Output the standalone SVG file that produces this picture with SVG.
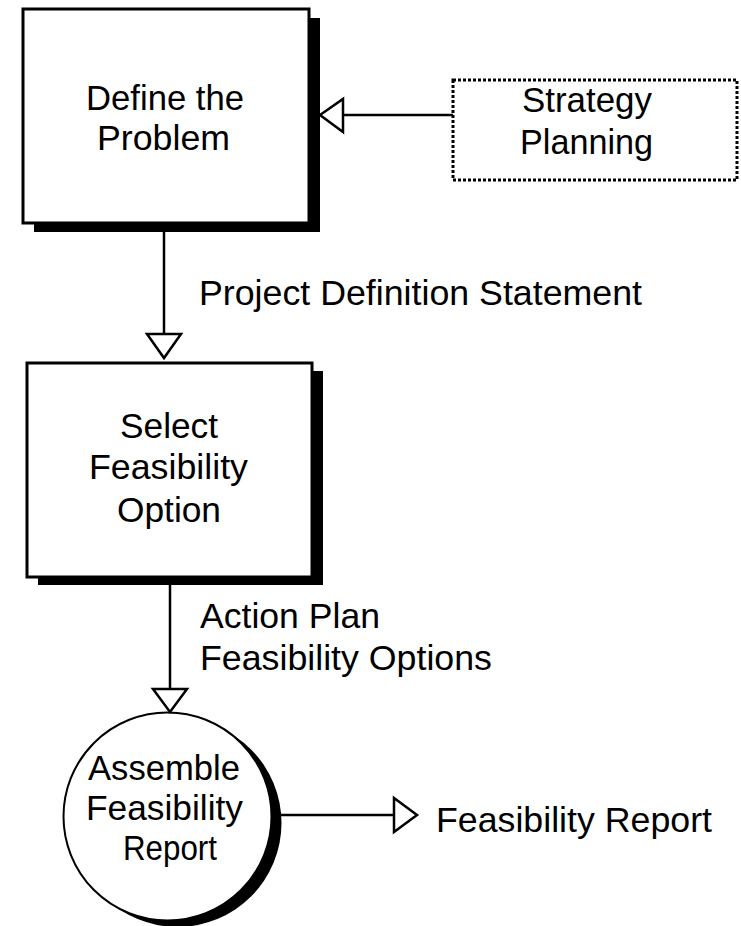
<svg xmlns="http://www.w3.org/2000/svg" width="741" height="926" viewBox="0 0 741 926">
<style>
text{font-family:"Liberation Sans",Arial,sans-serif;font-size:35px;fill:#000}
.box{fill:#fff;stroke:#000;stroke-width:3}
.shadow{fill:#000}
.dotted{fill:#fff;stroke:#000;stroke-width:3;stroke-dasharray:3 2}
.line{fill:none;stroke:#000;stroke-width:2.5}
.head{fill:#fff;stroke:#000;stroke-width:2.5;stroke-linejoin:miter}
</style>
<rect width="741" height="926" fill="#fff"/>
<g id="define">
<rect class="shadow" x="34" y="18" width="286" height="214"/>
<rect class="box" x="23" y="9" width="286" height="214"/>
<text x="86" y="110" textLength="158" lengthAdjust="spacingAndGlyphs">Define the</text>
<text x="97" y="150" textLength="133" lengthAdjust="spacingAndGlyphs">Problem</text>
</g>
<g id="strategy">
<rect class="dotted" x="453" y="80" width="284" height="100"/>
<text x="522" y="112" textLength="130" lengthAdjust="spacingAndGlyphs">Strategy</text>
<text x="520" y="154" textLength="133" lengthAdjust="spacingAndGlyphs">Planning</text>
</g>
<g id="select">
<rect class="shadow" x="38" y="371" width="285" height="214"/>
<rect class="box" x="27" y="363" width="285" height="214"/>
<text x="120" y="438" textLength="98" lengthAdjust="spacingAndGlyphs">Select</text>
<text x="89" y="479" textLength="159" lengthAdjust="spacingAndGlyphs">Feasibility</text>
<text x="117" y="522" textLength="104" lengthAdjust="spacingAndGlyphs">Option</text>
</g>
<g id="assemble">
<circle class="shadow" cx="177.5" cy="823" r="104"/>
<circle cx="167.5" cy="816.5" r="104" fill="#fff" stroke="#000" stroke-width="2"/>
<text x="88" y="780" textLength="152" lengthAdjust="spacingAndGlyphs">Assemble</text>
<text x="86" y="820" textLength="157" lengthAdjust="spacingAndGlyphs">Feasibility</text>
<text x="123" y="860" textLength="94" lengthAdjust="spacingAndGlyphs">Report</text>
</g>
<g id="connectors">
<line class="line" x1="453" y1="115" x2="322" y2="115"/>
<polygon class="head" points="320,115 343,99 343,132"/>
<line class="line" x1="164" y1="232" x2="164" y2="334"/>
<polygon class="head" points="147,334 181,334 164,358"/>
<text x="199" y="305" textLength="443" lengthAdjust="spacingAndGlyphs">Project Definition Statement</text>
<line class="line" x1="170" y1="585" x2="170" y2="689"/>
<polygon class="head" points="153,689 187,689 170,712"/>
<text x="200" y="628" textLength="180" lengthAdjust="spacingAndGlyphs">Action Plan</text>
<text x="200" y="670" textLength="292" lengthAdjust="spacingAndGlyphs">Feasibility Options</text>
<line class="line" x1="281" y1="815" x2="394" y2="815"/>
<polygon class="head" points="394,798 394,832 417,815"/>
<text x="436" y="832" textLength="276" lengthAdjust="spacingAndGlyphs">Feasibility Report</text>
</g>
</svg>
